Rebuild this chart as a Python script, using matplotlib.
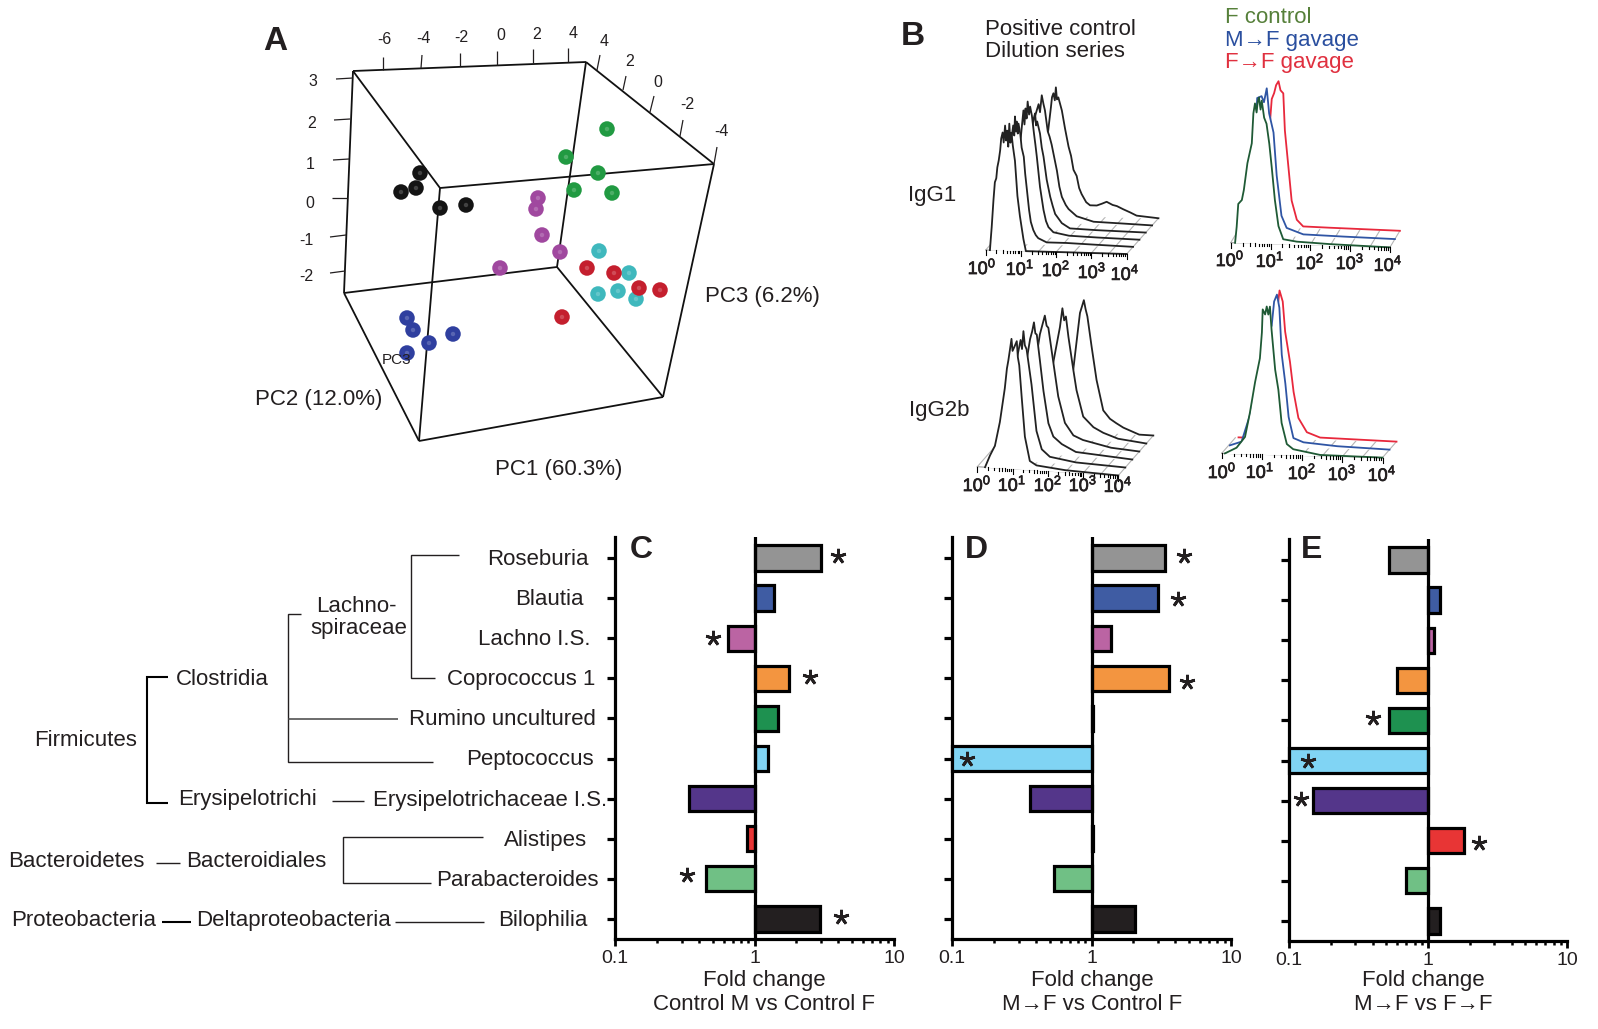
import matplotlib
matplotlib.use("Agg")
import matplotlib.pyplot as plt
import matplotlib.patheffects as pe
import numpy as np

plt.rcParams['font.family'] = ['Liberation Sans', 'DejaVu Sans']
plt.rcParams['mathtext.fontset'] = 'custom'
plt.rcParams['mathtext.rm'] = 'Liberation Sans'
plt.rcParams['mathtext.default'] = 'regular'

W, H = 1598, 1029
INK = '#231f20'

# panels C, D, E
taxa = ['Roseburia', 'Blautia', 'Lachno I.S.', 'Coprococcus 1', 'Rumino uncultured', 'Peptococcus',
        'Erysipelotrichaceae I.S.', 'Alistipes', 'Parabacteroides', 'Bilophilia']
bar_colors = ['#949494', '#3f5ca3', '#bb64a3', '#f39540', '#1e9150', '#80d4f4', '#54368a', '#e83535', '#70c085', '#231f20']
fold_c = [3.0, 1.38, 0.65, 1.76, 1.48, 1.25, 0.338, 0.88, 0.45, 2.94]
fold_d = [3.34, 3.02, 1.39, 3.6, 1.03, 0.1, 0.36, 1.03, 0.54, 2.05]
fold_e = [0.52, 1.22, 1.10, 0.60, 0.52, 0.1, 0.149, 1.83, 0.70, 1.22]
stars_c = [(3.94, -0.05), (0.50, 2.0), (2.52, 2.97), (0.326, 7.9), (4.2, 8.95)]
stars_d = [(4.6, -0.05), (4.14, 1.02), (4.86, 3.1), (0.129, 5.0)]
stars_e = [(0.40, 3.95), (0.136, 5.0), (0.122, 5.96), (2.32, 7.06)]

# panel A, picture positions
box_corners = {'a': (353, 71), 'b': (586, 62), 'c': (714, 164), 'd': (440, 188),
               'e': (344, 293), 'f': (557, 267), 'g': (419, 441), 'h': (663, 397)}
box_edges = ['ab', 'bc', 'cd', 'da', 'ae', 'ef', 'fb', 'fh', 'hc', 'hg', 'ge', 'gd']
pca_groups = {
    '#141414': ([420, 416, 401, 440, 466], [173, 188, 192, 208, 205]),
    '#219a42': ([607, 566, 598, 574, 612], [129, 157, 173, 190, 193]),
    '#a0489f': ([538, 536, 542, 560, 500], [198, 209, 235, 252, 268]),
    '#3fb8bd': ([599, 629, 618, 598, 636], [251, 273, 291, 294, 299]),
    '#c41f2e': ([587, 614, 639, 660, 562], [268, 273, 288, 290, 317]),
    '#2f3f9f': ([407, 413, 453, 429, 407], [318, 330, 334, 343, 353]),
}
top_ticks = [((383, 70), (383, 57), '-6', (384, 39)), ((421, 68), (422, 55), '-4', (423, 38)),
             ((460, 66), (460, 53), '-2', (461, 37)), ((497, 65), (497, 51), '0', (501, 35)),
             ((533, 63), (533, 49), '2', (537, 34)), ((568, 62), (568, 48), '4', (573, 33))]
side_ticks = [((597, 70), (600, 55), '4', (604, 41)), ((623, 90), (626, 76), '2', (630, 61)),
              ((650, 112), (654, 96), '0', (658, 82)), ((680, 136), (683, 120), '-2', (687, 104)),
              ((714, 164), (717, 147), '-4', (721, 131))]
left_ticks = [((353, 78), (336, 79), '3', (313, 81)), ((350, 119), (334, 120), '2', (312, 123)),
              ((349, 159), (333, 160), '1', (310, 164)), ((347, 198), (332, 198), '0', (310, 203)),
              ((346, 235), (330, 237), '-1', (306, 240)), ((345, 271), (330, 273), '-2', (306, 276))]

# flow histograms: decade, height pairs, front trace first
igg1_d = [
    [0.12, 0.15, 0.17, 0.22, 0.26, 0.30, 0.33, 0.37, 0.41, 0.44, 0.48, 0.51, 0.55, 0.58, 0.61, 0.64, 0.67, 0.70, 0.73, 0.77, 0.83, 0.90, 0.97, 1.07, 1.14, 2.0, 4.0],
    [0.1, 0.3, 0.5, 0.6, 0.63, 0.65, 0.68, 0.7, 0.73, 0.75, 0.8, 0.84, 0.9, 0.94, 0.98, 1.05, 1.1, 1.17, 1.24, 1.31, 1.55, 2.1, 3.0, 4.0],
    [0.2, 0.5, 0.71, 0.74, 0.77, 0.8, 0.83, 0.87, 0.9, 0.95, 1.01, 1.05, 1.09, 1.18, 1.28, 1.35, 1.42, 1.56, 2.0, 2.8, 4.0],
    [0.3, 0.6, 0.8, 0.83, 0.86, 0.89, 0.92, 1.0, 1.05, 1.1, 1.19, 1.29, 1.36, 1.43, 1.62, 1.85, 2.6, 4.0],
    [0.4, 0.68, 0.78, 0.82, 0.87, 0.92, 0.96, 1.04, 1.09, 1.15, 1.3, 1.37, 1.44, 1.55, 1.63, 1.86, 2.34, 3.2, 4.0],
    [0.6, 0.88, 0.95, 0.98, 1.02, 1.06, 1.09, 1.12, 1.16, 1.26, 1.35, 1.45, 1.52, 1.59, 1.68, 1.75, 1.82, 1.95, 2.06, 2.25, 2.4, 2.53, 2.7, 2.82, 3.0, 3.2, 3.38, 4.0],
]
igg1_h = [
    [0, 14, 23, 50, 68, 72, 83, 90, 100, 112, 118, 108, 125, 110, 120, 104, 127, 108, 118, 105, 90, 55, 35, 12, 0, 0, 0],
    [0, 50, 90, 118, 108, 127, 112, 122, 110, 120, 110, 96, 87, 70, 57, 34, 22, 14, 9, 6, 2, 2, 1, 0],
    [0, 50, 126, 112, 128, 118, 135, 122, 130, 121, 103, 92, 80, 50, 27, 16, 10, 5, 2, 1, 0],
    [0, 40, 105, 112, 116, 104, 108, 96, 82, 73, 50, 33, 24, 16, 7, 2, 1, 0],
    [0, 106, 118, 110, 127, 118, 112, 91, 86, 78, 52, 36, 26, 18, 14, 7, 2, 1, 0],
    [0, 87, 108, 118, 122, 115, 128, 116, 118, 105, 87, 69, 60, 46, 40, 28, 22, 14, 11, 11, 13, 15, 12, 11, 8, 5, 2, 0],
]
igg2b_d = [
    [0.22, 0.36, 0.5, 0.64, 0.78, 0.84, 0.88, 0.93, 0.97, 1.0, 1.05, 1.12, 1.15, 1.19, 1.26, 1.35, 1.49, 1.68, 2.5, 4.0],
    [0.3, 0.5, 0.8, 1.03, 1.07, 1.11, 1.15, 1.2, 1.34, 1.48, 1.63, 1.86, 2.6, 4.0],
    [0.4, 0.6, 0.9, 1.1, 1.16, 1.21, 1.25, 1.29, 1.38, 1.48, 1.62, 1.76, 2.0, 2.4, 4.0],
    [0.5, 0.7, 1.0, 1.18, 1.32, 1.37, 1.42, 1.56, 1.7, 1.89, 2.13, 2.4, 3.2, 4.0],
    [0.8, 1.1, 1.36, 1.46, 1.55, 1.62, 1.67, 1.72, 1.79, 1.93, 2.02, 2.21, 2.5, 2.78, 3.2, 4.0],
    [1.1, 1.3, 1.5, 1.73, 1.82, 1.92, 1.98, 2.03, 2.08, 2.13, 2.25, 2.39, 2.58, 2.77, 2.95, 3.15, 3.6, 4.0],
]
igg2b_h = [
    [0, 12, 22, 46, 80, 100, 108, 120, 130, 118, 122, 128, 112, 104, 72, 33, 9, 5, 2, 0],
    [0, 20, 80, 121, 112, 130, 116, 112, 77, 31, 13, 6, 2, 0],
    [0, 20, 70, 114, 122, 131, 120, 119, 93, 63, 31, 18, 11, 4, 0],
    [0, 20, 70, 111, 130, 120, 118, 84, 50, 24, 12, 8, 2, 0],
    [0, 20, 75, 94, 111, 130, 118, 122, 102, 69, 49, 23, 13, 8, 3, 0],
    [0, 5, 25, 61, 88, 118, 125, 131, 122, 115, 85, 52, 22, 14, 10, 6, 0, 0],
]
green_1_d = [0.11, 0.15, 0.19, 0.28, 0.33, 0.42, 0.53, 0.57, 0.61, 0.65, 0.68, 0.71, 0.75, 0.78, 0.84, 0.9, 0.97, 1.03, 1.11, 1.2, 1.32, 1.66, 2.5, 4.0]
green_1_h = [0, 16, 39, 43, 53, 80, 100, 130, 140, 131, 142, 146, 134, 143, 126, 120, 100, 77, 44, 18, 5, 3, 1.5, 0]
blue_1_d = [0.11, 0.3, 0.5, 0.54, 0.65, 0.71, 0.78, 0.84, 0.95, 1.03, 1.15, 1.28, 1.7, 2.7, 4.0]
blue_1_h = [0, 40, 100, 137, 139, 133, 147, 122, 103, 60, 20, 8, 2, 1, 0]
red_1_d = [0.1, 0.4, 0.6, 0.74, 0.78, 0.84, 0.89, 0.95, 1.0, 1.07, 1.11, 1.2, 1.28, 1.41, 1.57, 2.24, 4.0]
red_1_h = [0, 50, 90, 107, 128, 134, 142, 146, 137, 134, 97, 60, 27, 8, 1.5, 1, 0]
green_2_d = [0.08, 0.37, 0.58, 0.7, 0.83, 0.95, 1.0, 1.02, 1.08, 1.12, 1.16, 1.2, 1.24, 1.33, 1.41, 1.49, 1.62, 1.78, 2.45, 4.0]
green_2_h = [0, 6, 17, 41, 72, 96, 122, 145, 140, 148, 140, 148, 125, 85, 65, 32, 11, 6, 1, 0]
blue_2_d = [0.03, 0.32, 0.6, 0.9, 1.07, 1.13, 1.2, 1.26, 1.32, 1.41, 1.49, 1.61, 1.86, 2.7, 4.0]
blue_2_h = [0, 4, 40, 100, 121, 145, 152, 139, 92, 63, 30, 9, 5, 2, 0]
red_2_d = [0.07, 0.2, 0.6, 0.9, 1.06, 1.09, 1.17, 1.23, 1.35, 1.44, 1.56, 1.77, 2.1, 4.0]
red_2_h = [0, 0, 40, 100, 137, 148, 137, 107, 77, 47, 21, 7, 2, 0]
decades = ['$10^{0}$', '$10^{1}$', '$10^{2}$', '$10^{3}$', '$10^{4}$']

fig = plt.figure(figsize=(W / 100, H / 100), dpi=100)
bg = fig.add_axes([0, 0, 1, 1])
bg.set_xlim(0, W)
bg.set_ylim(H, 0)
bg.axis('off')


def label(x, y, s, size=16, ha='left', color=INK, **kw):
    # va center sits a little high for these fonts
    bg.text(x, y + 2.5, s, fontsize=size, ha=ha, va='center', color=color, **kw)


def seg(x, y, lw=1.0, color=INK):
    bg.plot(x, y, color=color, lw=lw, solid_capstyle='butt', solid_joinstyle='miter')


# panel A
for e in box_edges:
    p, q = box_corners[e[0]], box_corners[e[1]]
    seg([p[0], q[0]], [p[1], q[1]], lw=1.3, color='#111111')
for p, q, s, pos in top_ticks + side_ticks + left_ticks:
    seg([p[0], q[0]], [p[1], q[1]], lw=0.9)
    label(pos[0], pos[1] - 2, s, size=11.5, ha='center')
for col, (xs, ys) in pca_groups.items():
    bg.scatter(xs, ys, s=125, color=col, edgecolors='none', zorder=3)
    bg.scatter(xs, ys, s=10, color='#ffffff', alpha=0.2, edgecolors='none', zorder=4)
label(705, 294, 'PC3 (6.2%)', size=16)
label(255, 397, 'PC2 (12.0%)', size=16)
label(495, 467, 'PC1 (60.3%)', size=16)
label(382, 358, 'PC3', size=11, zorder=5)
label(263, 39, 'A', size=24, fontweight='bold')
label(901, 34, 'B', size=24, fontweight='bold')

# panel B
label(985, 27, 'Positive control', size=16)
label(985, 49, 'Dilution series', size=16)
label(908, 193, 'IgG1', size=16)
label(909, 408, 'IgG2b', size=16)
label(1225, 15, 'F control', size=16, color='#56803a')
label(1225, 38, 'M→F gavage', size=16, color='#2a4f9f')
label(1225, 60, 'F→F gavage', size=16, color='#e0303f')


def flow(x0, y0, dec, depth, traces, label_pos):
    n = len(traces)
    # grey floor
    for d in np.arange(0, 4.01, 0.5):
        seg([x0 + d * dec[0], x0 + d * dec[0] + (n - 1) * depth[0]],
            [y0 + d * dec[1], y0 + d * dec[1] + (n - 1) * depth[1]], lw=0.8, color='#b5b5b5')
    for i in range(n - 1, -1, -1):
        ds, hs, col = traces[i]
        ds = np.array(ds)
        hs = np.array(hs)
        xs = x0 + ds * dec[0] + i * depth[0]
        base = y0 + ds * dec[1] + i * depth[1]
        ys = base - hs
        bg.fill_between(xs, base, ys, color='white', lw=0, zorder=2 + (n - i) * 0.1)
        bg.plot(xs, ys, color=col, lw=1.3, zorder=2 + (n - i) * 0.1, solid_joinstyle='round')
    # front axis with log ticks
    bg.plot([x0, x0 + 4 * dec[0]], [y0, y0 + 4 * dec[1]], color='#999999', lw=0.8, zorder=2)
    for k in range(4):
        for m in range(1, 10):
            d = k + np.log10(m)
            ln = 5 if m == 1 else 2.5
            px, py = x0 + d * dec[0], y0 + d * dec[1]
            bg.plot([px, px], [py, py + ln], color='black', lw=0.8, zorder=3)
    bg.plot([x0 + 4 * dec[0]] * 2, [y0 + 4 * dec[1], y0 + 4 * dec[1] + 5], color='black', lw=0.8, zorder=3)
    for s, (lx, ly) in zip(decades, label_pos):
        bg.text(lx, ly, s, fontsize=13, ha='center', va='center', color=INK, zorder=6,
                path_effects=[pe.withStroke(linewidth=0.5, foreground=INK)])


flow(985.7, 250, (35.25, 1.0), (6.35, -7.15), [(d, h, '#222222') for d, h in zip(igg1_d, igg1_h)],
     [(982, 268), (1020, 269), (1056, 270), (1092, 272), (1125, 274)])
flow(977.3, 466.7, (35.25, 2.2), (7, -8), [(d, h, '#222222') for d, h in zip(igg2b_d, igg2b_h)],
     [(977, 485), (1012, 485), (1048, 485), (1083, 485), (1118, 486)])
flow(1230.7, 242.7, (39.8, 1.17), (5, -8.3),
     [(green_1_d, green_1_h, '#1f5a35'), (blue_1_d, blue_1_h, '#2f55a4'), (red_1_d, red_1_h, '#e8283c')],
     [(1230, 260), (1270, 261), (1310, 263), (1350, 263), (1388, 265)])
flow(1221.7, 453.3, (40.2, 1.08), (7, -8),
     [(green_2_d, green_2_h, '#1f5a35'), (blue_2_d, blue_2_h, '#2f55a4'), (red_2_d, red_2_h, '#e8283c')],
     [(1222, 472), (1260, 472), (1302, 473), (1342, 474), (1382, 475)])

# tree
tree_labels = [(487, 557, 'Roseburia'), (515, 597, 'Blautia'), (478, 637, 'Lachno I.S.'), (447, 677, 'Coprococcus 1'),
               (409, 717, 'Rumino uncultured'), (466, 757, 'Peptococcus'), (373, 798, 'Erysipelotrichaceae I.S.'),
               (504, 838, 'Alistipes'), (436, 878, 'Parabacteroides'), (498, 918, 'Bilophilia'),
               (316, 604, 'Lachno-'), (310, 626, 'spiraceae'), (176, 677, 'Clostridia'), (34, 738, 'Firmicutes'),
               (178, 797, 'Erysipelotrichi'), (8, 859, 'Bacteroidetes'), (186, 859, 'Bacteroidiales'),
               (11, 918, 'Proteobacteria'), (196, 918, 'Deltaproteobacteria')]
for x, y, s in tree_labels:
    label(x, y, s, size=16)
seg([459, 410.6, 410.6, 435], [555, 555, 678, 678])
seg([301, 288, 288, 433], [614, 614, 762, 762])
seg([288, 398], [719, 719], lw=1.1, color='#444444')
seg([168, 147, 147, 168], [677, 677, 803, 803], lw=1.5, color='black')
seg([332, 364], [801, 801])
seg([156, 180], [863, 863])
seg([483, 343, 343, 431], [837, 837, 883, 883])
seg([162, 191], [922, 922], lw=1.5, color='black')
seg([395, 484], [922, 922])


def bar_panel(left, right, top, bottom, first, folds, stars, letter, letter_x, lab_x, lab1, lab2):
    step = 40.1
    ax = fig.add_axes([left / W, 1 - bottom / H, (right - left) / W, (bottom - top) / H])
    ax.patch.set_alpha(0)
    y = np.arange(len(folds))
    ax.barh(y, np.array(folds) - 1, left=1, height=0.63, color=bar_colors,
            edgecolor='black', linewidth=2.3, clip_on=False, zorder=3)
    ax.set_xscale('log')
    ax.set_xlim(0.1, 10)
    ax.set_ylim((bottom - first) / step, (top - first) / step)
    ax.axvline(1, color='black', lw=2.3, zorder=4)
    for sx, sy in stars:
        ax.plot(sx, sy, marker=(5, 2, 0), ms=11, mew=2.0, color=INK, ls='none', zorder=5)
    for s in ['top', 'right']:
        ax.spines[s].set_visible(False)
    for s in ['left', 'bottom']:
        ax.spines[s].set_linewidth(2.3)
    ax.set_yticks(y)
    ax.set_yticklabels([])
    ax.tick_params(axis='y', length=6, width=2.3, left=True)
    ax.set_xticks([0.1, 1, 10])
    ax.set_xticklabels(['0.1', '1', '10'], fontsize=14, color=INK)
    ax.tick_params(axis='x', which='major', length=5, width=2, pad=3)
    ax.tick_params(axis='x', which='minor', length=3, width=1.8)
    label(letter_x, 548, letter, size=23, fontweight='bold', ha='center')
    label(lab_x, 978, lab1, size=16, ha='center')
    label(lab_x, 1002, lab2, size=16, ha='center')


bar_panel(615, 894, 537, 939, 558, fold_c, stars_c, 'C', 641, 764, 'Fold change', 'Control M vs Control F')
bar_panel(952, 1231, 537, 939, 558, fold_d, stars_d, 'D', 976, 1092, 'Fold change', 'M→F vs Control F')
bar_panel(1289, 1567, 539, 941, 560, fold_e, stars_e, 'E', 1312, 1423, 'Fold change', 'M→F vs F→F')

fig.savefig('out.png', dpi=100, facecolor='white')
